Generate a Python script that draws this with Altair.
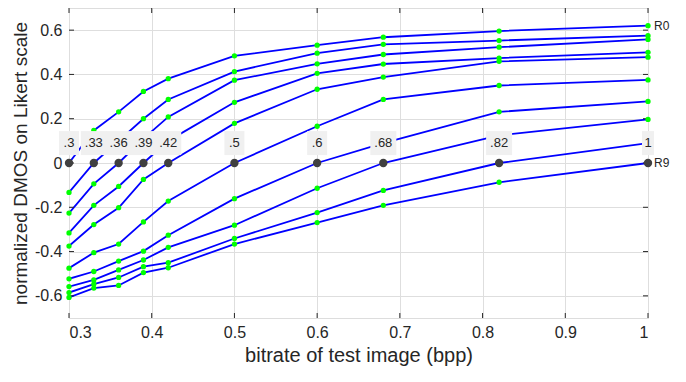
import altair as alt
import pandas as pd

bitrates = [0.3, 0.33, 0.36, 0.39, 0.42, 0.5, 0.6, 0.68, 0.82, 1.0]
ref_labels = [".3", ".33", ".36", ".39", ".42", ".5", ".6", ".68", ".82", "1"]
curve_names = ["R0", "R1", "R2", "R3", "R4", "R5", "R6", "R7", "R8", "R9"]

R0 = [0.0, 0.147, 0.231, 0.323, 0.381, 0.484, 0.532, 0.568, 0.596, 0.620]
R1 = [-0.133, 0.0, 0.100, 0.200, 0.287, 0.413, 0.496, 0.536, 0.553, 0.575]
R2 = [-0.226, -0.094, 0.0, 0.110, 0.208, 0.374, 0.448, 0.490, 0.523, 0.558]
R3 = [-0.316, -0.191, -0.106, 0.0, 0.100, 0.274, 0.405, 0.447, 0.474, 0.500]
R4 = [-0.375, -0.278, -0.202, -0.074, 0.0, 0.179, 0.333, 0.388, 0.459, 0.478]
R5 = [-0.475, -0.405, -0.366, -0.266, -0.172, 0.0, 0.166, 0.287, 0.350, 0.375]
R6 = [-0.523, -0.490, -0.443, -0.398, -0.326, -0.161, 0.0, 0.090, 0.231, 0.278]
R7 = [-0.558, -0.528, -0.483, -0.438, -0.381, -0.281, -0.114, 0.0, 0.125, 0.197]
R8 = [-0.585, -0.547, -0.517, -0.468, -0.450, -0.341, -0.224, -0.124, 0.0, 0.090]
R9 = [-0.607, -0.565, -0.553, -0.495, -0.473, -0.366, -0.269, -0.191, -0.087, 0.0]
curves = [R0, R1, R2, R3, R4, R5, R6, R7, R8, R9]

x_ticks = [0.3, 0.4, 0.5, 0.6, 0.7, 0.8, 0.9, 1.0]
y_ticks = [-0.6, -0.4, -0.2, 0.0, 0.2, 0.4, 0.6]
label_level = 0.09

rows = []
for name, i_ref, vals in zip(curve_names, range(len(curves)), curves):
    for j, (b, v) in enumerate(zip(bitrates, vals)):
        rows.append({"curve": name, "order": j, "bitrate": b, "dmos": v,
                     "is_ref": j == i_ref})
df = pd.DataFrame(rows)

refs = pd.DataFrame({"bitrate": bitrates, "label": ref_labels,
                     "dmos": [0.0] * len(bitrates),
                     "level": [label_level] * len(bitrates),
                     "nchar": [len(s) for s in ref_labels]})
ends = pd.DataFrame({"bitrate": [1.0, 1.0], "dmos": [R0[-1], R9[-1]],
                     "label": ["R0", "R9"]})

W, H = 579, 310
FONT = "Liberation Sans"
TXT = "#262626"

xs = alt.Scale(domain=[0.3, 1.0], nice=False, zero=False)
ys = alt.Scale(domain=[-0.7, 0.7], nice=False, zero=False)

minus = "\u2212"
x_axis = alt.Axis(values=x_ticks, title="bitrate of test image (bpp)",
                  labelExpr="datum.value == 1 ? '1' : format(datum.value, '.1f')",
                  grid=True, gridColor="#dedede", gridWidth=1, tickSize=0,
                  domain=False, labelFontSize=16, labelColor=TXT, labelPadding=6,
                  titleFontSize=20, titleFontWeight="normal", titleColor=TXT,
                  titlePadding=5, labelFont=FONT, titleFont=FONT)
y_axis = alt.Axis(values=y_ticks, title="normalized DMOS on Likert scale",
                  labelExpr="datum.value == 0 ? '0' : replace(format(datum.value, '.1f'), '" + minus + "', '-')",
                  grid=True, gridColor="#dedede", gridWidth=1, tickSize=0,
                  domain=False, labelFontSize=16, labelColor=TXT, labelPadding=7,
                  titleFontSize=19, titleFontWeight="normal", titleColor=TXT,
                  titlePadding=4, labelFont=FONT, titleFont=FONT)

base = alt.Chart(df)

lines = base.mark_line(color="#0000ff", strokeWidth=1.8, clip=True).encode(
    x=alt.X("bitrate:Q", scale=xs, axis=x_axis),
    y=alt.Y("dmos:Q", scale=ys, axis=y_axis),
    detail="curve:N",
    order="order:Q",
)

green = base.transform_filter("!datum.is_ref").mark_circle(
    color="#00ff00", opacity=1, size=28).encode(
    x=alt.X("bitrate:Q", scale=xs), y=alt.Y("dmos:Q", scale=ys))

refbase = alt.Chart(refs)
gray = refbase.mark_circle(color="#404040", opacity=1, size=70).encode(
    x=alt.X("bitrate:Q", scale=xs), y=alt.Y("dmos:Q", scale=ys))

boxes = []
for n, w in [(1, 12), (2, 20), (3, 26)]:
    boxes.append(refbase.transform_filter(f"datum.nchar == {n}").mark_rect(
        color="#f0f0f0", width=w, height=24).encode(
        x=alt.X("bitrate:Q", scale=xs), y=alt.Y("level:Q", scale=ys)))

ref_text = refbase.mark_text(font=FONT, fontSize=13, color=TXT,
                             baseline="middle", align="center").encode(
    x=alt.X("bitrate:Q", scale=xs), y=alt.Y("level:Q", scale=ys), text="label:N")

end_text = alt.Chart(ends).mark_text(font=FONT, fontSize=12, color=TXT,
                                     align="left", baseline="middle", dx=6).encode(
    x=alt.X("bitrate:Q", scale=xs), y=alt.Y("dmos:Q", scale=ys), text="label:N")

xt = alt.Chart(pd.DataFrame({"t": x_ticks}))
yt = alt.Chart(pd.DataFrame({"t": y_ticks}))
tick_style = dict(color="#262626", strokeWidth=1)
ticks = [
    xt.mark_rule(**tick_style).encode(x=alt.X("t:Q", scale=xs), y=alt.value(H), y2=alt.value(H - 5)),
    xt.mark_rule(**tick_style).encode(x=alt.X("t:Q", scale=xs), y=alt.value(0), y2=alt.value(5)),
    yt.mark_rule(**tick_style).encode(y=alt.Y("t:Q", scale=ys), x=alt.value(0), x2=alt.value(5)),
    yt.mark_rule(**tick_style).encode(y=alt.Y("t:Q", scale=ys), x=alt.value(W - 5), x2=alt.value(W)),
]

chart = alt.layer(lines, *ticks, green, gray, *boxes, ref_text, end_text).properties(
    width=W, height=H,
    autosize=alt.AutoSizeParams(type="none"),
    padding={"left": 61, "top": 0, "right": 30, "bottom": 60},
).configure_view(stroke="#262626", strokeWidth=1.5).configure(background="white")

chart.save("out.html", embed_options={"renderer": "svg", "actions": False})
